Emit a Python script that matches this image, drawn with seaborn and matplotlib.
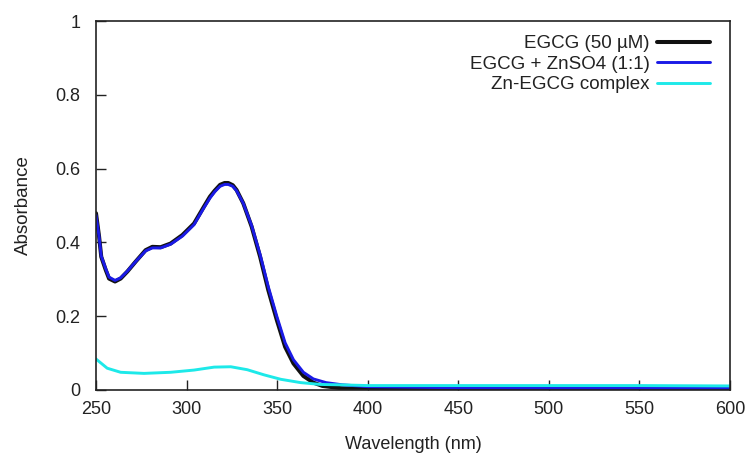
import matplotlib
matplotlib.use("Agg")
import matplotlib.pyplot as plt
import seaborn as sns
import pandas as pd
from matplotlib.ticker import FormatStrFormatter

# Data
wl_egcg = [250, 251.7, 252.9, 255.4, 257.2, 260.5, 263.6, 267.3, 271.9, 277.4, 281.1, 285.7,
           291.2, 297.7, 304.1, 309.6, 312.9, 315.5, 318.5, 321, 323, 325.5, 327.6, 331.3,
           335.9, 340.6, 345.1, 349.8, 354.4, 359, 364.5, 370, 375, 385, 400, 450, 500, 550, 600]
abs_egcg = [0.479, 0.416, 0.361, 0.325, 0.302, 0.294, 0.302, 0.321, 0.348, 0.379, 0.388, 0.387,
            0.397, 0.420, 0.451, 0.497, 0.524, 0.540, 0.556, 0.561, 0.561, 0.555, 0.542, 0.506,
            0.443, 0.361, 0.271, 0.190, 0.117, 0.072, 0.038, 0.020, 0.011, 0.005, 0.002,
            0.001, 0.001, 0.001, 0.001]

wl_zn = [250, 251.7, 252.9, 255.4, 257.2, 260.5, 263.6, 267.3, 271.9, 277.4, 281.1, 285.7,
         291.2, 297.7, 304.1, 309.6, 312.9, 315.5, 318.5, 321, 323, 325.5, 327.6, 331.3,
         335.9, 340.6, 345.1, 349.8, 354.4, 359, 364.5, 370, 377, 386, 400, 450, 500, 550, 600]
abs_zn = [0.474, 0.416, 0.363, 0.328, 0.306, 0.297, 0.304, 0.322, 0.348, 0.377, 0.385, 0.385,
          0.395, 0.417, 0.448, 0.494, 0.520, 0.537, 0.552, 0.557, 0.557, 0.552, 0.540, 0.506,
          0.446, 0.367, 0.280, 0.200, 0.128, 0.082, 0.048, 0.030, 0.020, 0.014, 0.009,
          0.006, 0.005, 0.005, 0.005]

wl_cplx = [250, 256.2, 263.6, 276.5, 291.2, 304.1, 315.2, 324.4, 333.5, 342.8, 352, 363, 374,
           385, 400, 450, 500, 550, 600]
abs_cplx = [0.084, 0.059, 0.048, 0.045, 0.048, 0.054, 0.062, 0.063, 0.055, 0.041, 0.029, 0.020,
            0.015, 0.014, 0.012, 0.012, 0.012, 0.012, 0.011]

labels = ["EGCG (50 \u00b5M)", "EGCG + ZnSO4 (1:1)", "Zn-EGCG complex"]
colors = ["#111111", "#1a1ae6", "#1de9e9"]
widths = [2.9, 2.1, 2.1]

x_ticks = [250, 300, 350, 400, 450, 500, 550, 600]
y_ticks = [0, 0.2, 0.4, 0.6, 0.8, 1.0]

sns.set_style("white")
plt.rcParams["font.family"] = ["Liberation Sans", "DejaVu Sans"]

df = pd.concat([
    pd.DataFrame({"wl": wl_egcg, "abs": abs_egcg, "series": labels[0]}),
    pd.DataFrame({"wl": wl_zn, "abs": abs_zn, "series": labels[1]}),
    pd.DataFrame({"wl": wl_cplx, "abs": abs_cplx, "series": labels[2]}),
])

fig = plt.figure(figsize=(7.53, 4.57), dpi=100)
ax = fig.add_axes([96 / 753, 1 - 390 / 457, (730 - 96) / 753, (390 - 21) / 457])

for lab, col, lw in zip(labels, colors, widths):
    sub = df[df["series"] == lab]
    sns.lineplot(data=sub, x="wl", y="abs", ax=ax, color=col, linewidth=lw, label=lab,
                 sort=False, estimator=None)
for ln in ax.get_lines():
    ln.set_solid_joinstyle("round")
    ln.set_solid_capstyle("round")

ax.set_xlim(250, 600)
ax.set_ylim(0, 1)
ax.set_xticks(x_ticks)
ax.set_yticks(y_ticks)
ax.yaxis.set_major_formatter(FormatStrFormatter("%g"))
ax.tick_params(direction="in", length=7, width=1, labelsize=13, colors="#222222",
               top=False, right=False, bottom=True, left=True)
ax.tick_params(axis="x", pad=8)
ax.tick_params(axis="y", pad=11)
for s in ax.spines.values():
    s.set_visible(True)
    s.set_color("#222222")
    s.set_linewidth(1.2)
ax.set_xlabel("Wavelength (nm)", fontsize=13, labelpad=13, color="#222222")
ax.set_ylabel("Absorbance", fontsize=13.5, labelpad=17, color="#222222")

leg = ax.legend(loc="upper right", frameon=False, markerfirst=False, fontsize=13.5,
                handlelength=2.85, handletextpad=0.37, labelspacing=0.18,
                bbox_to_anchor=(0.9685, 0.962), borderaxespad=0, borderpad=0)
for t in leg.get_texts():
    t.set_ha("right")
    t.set_color("#222222")

fig.savefig("out.png", dpi=100)
